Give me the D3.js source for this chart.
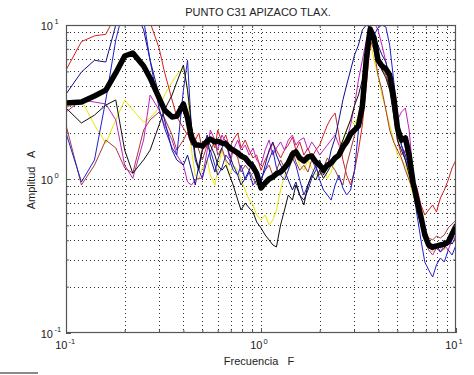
<!DOCTYPE html>
<html><head><meta charset="utf-8">
<script src="https://cdn.jsdelivr.net/npm/d3@7"></script>
<style>body{margin:0;background:#fff;} svg{display:block;font-family:"Liberation Sans",Arial,sans-serif;}</style>
</head><body><svg id="c" width="474" height="375"></svg>
<script>
const titleText = "PUNTO C31 APIZACO TLAX.";
const xLabelText = "Frecuencia   F";
const yLabelText = "Amplitud   A";
const majorTicks = [0.1, 1, 10];
const tickExponents = ["-1", "0", "1"];

const freq = [0.10,0.12,0.14,0.16,0.18,0.20,0.22,0.25,0.27,0.30,0.32,0.35,0.37,0.40,0.42,0.44,0.46,
0.48,0.50,0.53,0.55,0.58,0.60,0.63,0.66,0.69,0.72,0.76,0.79,0.83,0.87,0.91,0.95,
1.00,1.05,1.10,1.15,1.20,1.26,1.32,1.38,1.45,1.51,1.58,1.66,1.74,1.82,1.91,
2.00,2.09,2.19,2.29,2.40,2.51,2.63,2.75,2.88,3.02,3.16,3.31,3.47,3.63,3.80,3.98,
4.17,4.37,4.57,4.79,5.01,5.25,5.50,5.75,6.03,6.31,6.61,6.92,7.24,7.59,7.94,8.32,8.71,9.12,9.55,10.0];

const ampRed = [5.1,7.8,8.5,8.7,11.6,13.5,13.5,12.1,10.4,7.1,4.95,3.26,2.53,2.14,1.93,2.14,1.79,
1.99,1.54,1.66,1.87,1.59,2.08,1.74,1.93,1.59,1.79,1.99,1.59,1.79,1.54,1.37,1.43,
1.14,1.33,1.50,1.71,1.54,1.37,1.54,1.66,1.87,1.54,1.74,1.43,1.59,1.37,1.54,
1.66,1.93,2.24,2.49,2.68,1.93,1.33,1.06,0.914,1.14,1.54,2.24,4.08,7.4,8.0,6.4,
5.1,4.73,3.90,2.81,1.79,1.43,1.54,1.23,1.01,0.874,0.678,0.584,0.629,0.678,0.611,0.753,0.848,0.985,1.18,1.33];

const ampBrown = [2.24,0.914,1.23,1.79,1.59,1.18,1.09,2.08,2.42,2.72,2.49,1.93,1.54,1.79,2.02,1.66,1.85,
1.54,1.33,1.66,1.50,1.79,1.43,1.59,1.33,1.23,1.54,1.37,1.11,1.23,1.14,1.01,0.914,
0.985,1.14,1.23,1.06,1.14,1.33,1.18,1.37,1.54,1.29,1.14,1.23,1.11,1.33,1.18,
1.06,1.18,1.37,1.23,1.14,1.01,0.914,1.23,1.54,1.93,2.42,3.51,5.5,8.0,6.9,4.73,
3.78,2.81,2.08,1.74,1.54,1.37,1.14,0.985,0.848,0.678,0.542,0.481,0.414,0.402,0.426,0.414,0.433,0.481,0.51,0.542];

const ampBlue = [1.99,0.956,1.33,3.26,8.0,13.5,13.5,10.8,5.9,2.89,2.14,1.59,1.43,3.78,5.9,2.08,1.33,
1.14,1.01,1.33,1.54,1.23,1.06,1.18,1.43,1.33,1.14,1.06,1.23,0.985,1.11,0.914,0.985,
1.01,1.14,1.33,1.54,1.18,1.06,0.985,1.14,1.37,1.23,0.985,0.787,0.914,1.06,1.23,
0.985,0.848,0.787,0.730,0.914,1.06,0.874,0.787,0.848,1.14,2.08,3.78,5.9,8.0,8.6,9.6,
10.0,9.7,7.4,4.39,2.60,1.66,1.33,1.14,0.848,0.584,0.402,0.289,0.257,0.231,0.277,0.307,0.289,0.346,0.321,0.373];

const ampNavy = [3.56,4.95,5.9,5.75,10.0,13.5,13.5,9.3,5.9,3.51,2.42,1.54,1.33,1.23,1.43,1.14,0.914,
1.23,1.54,1.93,1.37,1.11,1.33,1.59,1.79,1.43,1.23,1.06,0.914,1.01,1.14,1.29,1.06,
0.956,1.23,1.54,1.74,1.43,1.23,1.14,0.985,0.848,0.956,0.787,0.730,0.848,1.01,1.14,
1.33,1.06,1.18,1.54,1.85,2.42,3.26,4.08,5.1,6.4,7.4,9.3,10.0,9.6,8.6,7.4,
6.4,5.75,4.39,3.02,2.08,1.66,1.43,1.18,0.914,0.730,0.584,0.466,0.402,0.346,0.373,0.336,0.356,0.402,0.378,0.426];

const ampMagenta = [2.72,3.26,3.16,3.07,2.42,1.23,1.01,1.79,3.51,2.81,2.24,1.79,1.43,1.23,0.956,0.914,0.985,
1.01,1.01,1.54,2.08,1.79,1.54,1.93,1.74,1.37,1.54,1.79,1.54,1.66,1.43,1.59,1.33,
1.23,1.54,1.79,1.43,1.59,1.74,1.54,1.79,1.93,1.66,1.79,1.85,1.54,1.74,1.59,
1.43,1.54,1.66,1.79,1.93,1.66,1.54,1.79,2.24,3.02,4.39,5.9,8.0,10.0,10.4,9.3,
7.4,5.75,4.53,3.51,2.42,2.72,2.89,2.08,1.06,0.730,0.526,0.414,0.346,0.321,0.356,0.336,0.373,0.346,0.402,0.433];

const ampYellow = [2.89,3.26,2.24,1.71,2.42,3.26,2.81,2.34,2.49,2.89,3.51,4.26,4.73,5.26,3.78,1.54,1.06,
0.985,1.18,1.33,1.06,0.914,1.14,1.54,1.29,1.06,1.23,1.14,0.985,0.848,0.730,0.678,0.584,
0.542,0.584,0.503,0.542,0.629,0.848,1.06,1.14,1.33,1.43,1.23,1.14,1.33,1.18,1.06,
1.14,1.23,1.01,1.11,1.33,1.54,1.79,2.08,2.42,2.24,2.60,3.51,5.9,8.0,5.9,4.73,
3.51,2.81,2.24,1.79,1.43,1.33,1.23,0.985,0.787,0.629,0.503,0.402,0.346,0.336,0.356,0.373,0.346,0.390,0.414,0.453];

const ampBlack = [2.89,2.31,2.60,3.02,3.26,1.54,1.09,1.33,1.54,2.24,2.81,3.51,4.26,5.5,3.78,2.24,1.43,
1.14,1.54,1.79,1.66,1.43,1.23,1.14,1.23,1.06,0.914,0.730,0.629,0.698,0.648,0.611,0.526,
0.481,0.433,0.402,0.373,0.362,0.503,0.629,0.787,0.730,0.914,0.787,0.678,0.914,1.06,0.985,
1.14,1.01,1.11,1.23,1.33,1.54,1.79,2.08,2.42,3.02,3.51,4.39,6.4,8.6,8.0,6.4,
5.1,4.53,3.78,2.60,1.79,1.54,1.33,1.06,0.848,0.629,0.503,0.402,0.356,0.346,0.373,0.356,0.402,0.373,0.414,0.466];

const ampMean = [3.12,3.16,3.46,3.78,4.88,6.29,6.58,5.42,4.53,3.36,2.81,2.53,2.56,3.07,2.49,1.85,1.66,
1.66,1.64,1.76,1.82,1.74,1.76,1.71,1.69,1.59,1.54,1.48,1.41,1.37,1.27,1.20,1.09,
0.874,0.942,1.0,1.03,1.08,1.11,1.18,1.27,1.45,1.50,1.37,1.31,1.39,1.41,1.29,
1.23,1.14,1.23,1.27,1.37,1.43,1.61,1.74,1.96,2.08,2.21,2.98,6.10,9.42,8.24,5.93,
5.42,5.18,4.73,3.41,2.14,1.79,1.85,1.43,0.942,0.730,0.567,0.433,0.373,0.362,0.367,0.373,0.378,0.390,0.440,0.495];

const seriesNames = ["yellow","red","brown","magenta","navy","blue","black"];
const seriesColors = ["#e8e800","#d42020","#a83a3a","#c020c0","#10108a","#2020d0","#101010"];
const seriesData = [ampYellow, ampRed, ampBrown, ampMagenta, ampNavy, ampBlue, ampBlack];

const svg = d3.select("#c");
const x = d3.scaleLog().domain([0.1, 10]).range([66, 456]);
const y = d3.scaleLog().domain([0.1, 10]).range([333, 25]);
const [x0, x1] = x.range();
const [y0, y1] = y.range();

svg.append("rect").attr("width",474).attr("height",375).attr("fill","#fff");

const allTicks = [];
[0.1, 1].forEach(d => { for (let k = 1; k <= 9; k++) allTicks.push(+(d*k).toPrecision(3)); });
allTicks.push(10);
const minorTicks = allTicks.filter(v => !majorTicks.includes(v));

// dotted grid
const grid = svg.append("g").attr("stroke","#000").attr("stroke-width",1).attr("stroke-dasharray","1,3").attr("opacity",0.8);
allTicks.forEach(v => {
  if (v > 0.1 && v < 10) {
    grid.append("line").attr("x1", Math.round(x(v))+0.5).attr("x2", Math.round(x(v))+0.5).attr("y1", y1).attr("y2", y0);
    grid.append("line").attr("y1", Math.round(y(v))+0.5).attr("y2", Math.round(y(v))+0.5).attr("x1", x0).attr("x2", x1);
  }
});

svg.append("clipPath").attr("id","clip").append("rect").attr("x",x0).attr("y",y1).attr("width",x1-x0).attr("height",y0-y1);

const line = d3.line().x((d,i) => x(freq[i])).y(d => y(d));
const plot = svg.append("g").attr("clip-path","url(#clip)");
seriesData.forEach((arr, k) => {
  plot.append("path").datum(arr).attr("d", line).attr("fill","none")
    .attr("stroke", seriesColors[k]).attr("stroke-width", 1).attr("stroke-linejoin","round");
});
plot.append("path").datum(ampMean).attr("d", line).attr("fill","none")
  .attr("stroke","#000").attr("stroke-width",5.5).attr("stroke-linejoin","round").attr("stroke-linecap","round");

const axisColor = "#555";
function styleAxis(g){ g.select(".domain").remove(); g.selectAll("line").attr("stroke",axisColor); g.selectAll("text").remove(); }
svg.append("g").attr("transform",`translate(0,${y0})`).call(d3.axisBottom(x).tickValues(minorTicks).tickSize(-3).tickFormat("")).call(styleAxis);
svg.append("g").attr("transform",`translate(0,${y1})`).call(d3.axisTop(x).tickValues(minorTicks).tickSize(-3).tickFormat("")).call(styleAxis);
svg.append("g").attr("transform",`translate(${x0},0)`).call(d3.axisLeft(y).tickValues(minorTicks).tickSize(-3).tickFormat("")).call(styleAxis);
svg.append("g").attr("transform",`translate(${x1},0)`).call(d3.axisRight(y).tickValues(minorTicks).tickSize(-3).tickFormat("")).call(styleAxis);
svg.append("g").attr("transform",`translate(0,${y0})`).call(d3.axisBottom(x).tickValues(majorTicks).tickSize(-5).tickFormat("")).call(styleAxis);
svg.append("g").attr("transform",`translate(${x0},0)`).call(d3.axisLeft(y).tickValues(majorTicks).tickSize(-5).tickFormat("")).call(styleAxis);

svg.append("rect").attr("x",x0+0.5).attr("y",y1+0.5).attr("width",x1-x0-1).attr("height",y0-y1-1)
  .attr("fill","none").attr("stroke",axisColor).attr("stroke-width",1.2);

const lab = svg.append("g").attr("fill","#222");
majorTicks.forEach((v,i) => {
  lab.append("text").attr("x", x(v)+1.5).attr("y", 349).attr("text-anchor","end").attr("font-size",11).text("10");
  lab.append("text").attr("x", x(v)+2.5).attr("y", 344).attr("font-size",7.5).text(tickExponents[i]);
  lab.append("text").attr("x", 53).attr("y", y(v)+4.5).attr("text-anchor","end").attr("font-size",11).text("10");
  lab.append("text").attr("x", 54.5).attr("y", y(v)-1).attr("font-size",7.5).text(tickExponents[i]);
});

svg.append("text").attr("x",258).attr("y",16).attr("text-anchor","middle").attr("font-size",11).attr("fill","#222").text(titleText);
svg.append("text").attr("x",259).attr("y",365).attr("text-anchor","middle").attr("font-size",11).attr("fill","#222").style("white-space","pre").text(xLabelText);
svg.append("text").attr("transform","translate(34.5,180) rotate(-90)").attr("text-anchor","middle").attr("font-size",11).attr("fill","#222").style("white-space","pre").text(yLabelText);

svg.append("rect").attr("x",0).attr("y",372).attr("width",38).attr("height",2).attr("fill","#8a8a8a");
</script></body></html>
